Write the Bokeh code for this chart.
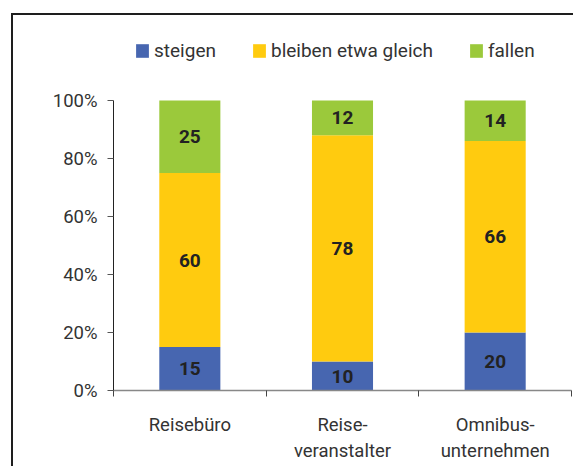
import numpy as np
from bokeh.plotting import figure
from bokeh.models import ColumnDataSource, Range1d, FixedTicker, NumeralTickFormatter
from bokeh.core.properties import value
from bokeh.embed import file_html
from bokeh.resources import INLINE

categories = ["Reisebüro", "Reise-\nveranstalter", "Omnibus-\nunternehmen"]
steigen = [15, 10, 20]
bleiben = [60, 78, 66]
fallen = [25, 12, 14]
series_names = ["steigen", "bleiben etwa gleich", "fallen"]
colors = ["#4766B0", "#FFCB0F", "#9BC93B"]
y_ticks = [0, 0.2, 0.4, 0.6, 0.8, 1.0]

FONT = "Roboto"
x = np.arange(len(categories)) + 0.5
s = np.array(steigen) / 100.0
b = np.array(bleiben) / 100.0
f = np.array(fallen) / 100.0

source = ColumnDataSource(dict(x=x, steigen=s, bleiben=b, fallen=f))

# outer frame line (top and left edges), drawn as CSS background of the figure
frame_css = ("linear-gradient(#1e1e1e, #1e1e1e) 11px 13px / 700px 2px no-repeat, "
             "linear-gradient(#1e1e1e, #1e1e1e) 11px 13px / 2px 700px no-repeat, white")

# plot frame: 458 x 360 px; 100% sits 290 px above the baseline, legend row above it
p = figure(width=573, height=466, output_backend="svg", toolbar_location=None,
           x_range=Range1d(0, 3), y_range=Range1d(0, 360 / 290),
           styles={"background": frame_css})
p.min_border_left = 113
p.min_border_right = 2
p.min_border_top = 30
p.min_border_bottom = 76
p.outline_line_color = None
p.xgrid.visible = False
p.ygrid.visible = False
p.background_fill_color = "white"
p.border_fill_color = None

p.vbar_stack(["steigen", "bleiben", "fallen"], x="x", width=0.4, color=colors,
             source=source, legend_label=series_names, line_color=None)

# value labels
for vals, base in ((s, np.zeros(3)), (b, s), (f, s + b)):
    lab = ColumnDataSource(dict(x=x, y=base + vals / 2, t=[str(int(round(v * 100))) for v in vals]))
    p.text(x="x", y="y", text="t", source=lab, text_align="center", text_baseline="middle",
           text_font=value(FONT), text_font_style="bold", text_font_size="19px", text_color="#222222")

# y axis
yax = p.yaxis[0]
yax.ticker = FixedTicker(ticks=y_ticks)
yax.bounds = (0, 1)
yax.formatter = NumeralTickFormatter(format="0%")
yax.axis_line_color = "#222222"
yax.major_tick_line_color = "#555555"
yax.major_tick_out = 6
yax.major_tick_in = 0
yax.minor_tick_line_color = None
yax.major_label_standoff = 10
yax.major_label_text_font = FONT
yax.major_label_text_font_size = "18.5px"
yax.major_label_text_color = "#333333"

# x axis
xax = p.xaxis[0]
xax.ticker = FixedTicker(ticks=list(x), minor_ticks=[0, 1, 2, 3])
xax.major_label_overrides = {float(xi): c for xi, c in zip(x, categories)}
xax.axis_line_color = "#888888"
xax.axis_line_width = 1.5
xax.major_tick_line_color = None
xax.major_tick_out = 0
xax.major_tick_in = 0
xax.minor_tick_line_color = "#444444"
xax.minor_tick_out = 6
xax.minor_tick_in = 0
xax.major_label_standoff = 17
xax.major_label_text_font = FONT
xax.major_label_text_font_size = "18.5px"
xax.major_label_text_color = "#333333"

# legend inside the (extended) frame, above the bars
lg = p.legend[0]
lg.orientation = "horizontal"
lg.location = (21, 328)
lg.border_line_color = None
lg.background_fill_alpha = 0
lg.padding = 0
lg.margin = 0
lg.spacing = 35
lg.glyph_width = 16
lg.glyph_height = 17
lg.label_standoff = 4
lg.label_text_font = FONT
lg.label_text_font_size = "19px"
lg.label_text_color = "#333333"

open("out.html", "w").write(file_html(p, INLINE))
